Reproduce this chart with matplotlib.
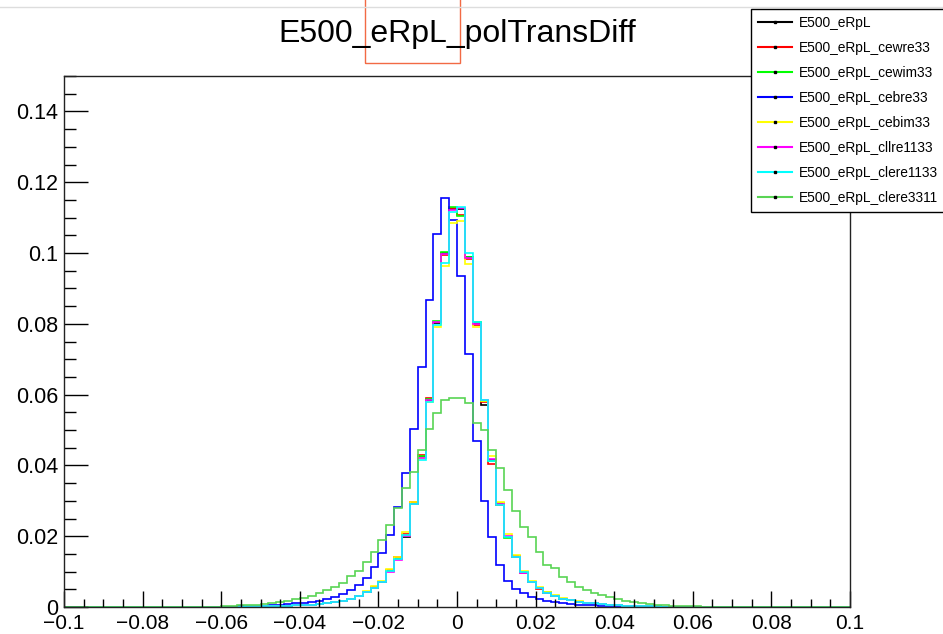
import numpy as np
import matplotlib
matplotlib.use('Agg')
import matplotlib.pyplot as plt
from matplotlib.ticker import MultipleLocator
from matplotlib.lines import Line2D
from matplotlib.patches import Rectangle

plt.rcParams['font.family'] = ['Liberation Sans', 'DejaVu Sans']

title = 'E500_eRpL_polTransDiff'
x_lo, x_hi, n_bins = -0.1, 0.1, 100
first_bin = 20   # values below start at bin 20 (x = -0.06), other bins are empty

names = ['E500_eRpL', 'E500_eRpL_cewre33', 'E500_eRpL_cewim33', 'E500_eRpL_cebre33',
         'E500_eRpL_cebim33', 'E500_eRpL_cllre1133', 'E500_eRpL_clere1133', 'E500_eRpL_clere3311']
colors = ['#000000', '#ff0000', '#00ff00', '#0000ff', '#ffff00', '#ff00ff', '#00ffff', '#59d454']

eRpL = [0.0001, 0.0001, 0.0001, 0.0002, 0.0002, 0.0002, 0.0003, 0.0003, 0.0004, 0.0005,
        0.0006, 0.0007, 0.0009, 0.0011, 0.0013, 0.0017, 0.0023, 0.0031, 0.0042, 0.0055,
        0.0072, 0.0103, 0.0138, 0.0197, 0.0293, 0.0424, 0.0584, 0.0802, 0.0999, 0.1123,
        0.1125, 0.0989, 0.0801, 0.0570, 0.0415, 0.0290, 0.0199, 0.0142, 0.0098, 0.0071,
        0.0053, 0.0040, 0.0031, 0.0024, 0.0019, 0.0015, 0.0012, 0.0010, 0.0008, 0.0006,
        0.0005, 0.0004, 0.0003, 0.0003, 0.0002, 0.0002, 0.0001, 0.0001, 0.0001, 0.0001,
        0.0000]
cewre33 = [0.0001, 0.0001, 0.0001, 0.0002, 0.0002, 0.0002, 0.0003, 0.0003, 0.0004, 0.0005,
           0.0006, 0.0007, 0.0009, 0.0011, 0.0013, 0.0017, 0.0024, 0.0031, 0.0041, 0.0056,
           0.0070, 0.0105, 0.0140, 0.0205, 0.0297, 0.0430, 0.0590, 0.0806, 0.0995, 0.1127,
           0.1108, 0.0984, 0.0796, 0.0580, 0.0405, 0.0288, 0.0197, 0.0144, 0.0096, 0.0072,
           0.0052, 0.0040, 0.0031, 0.0024, 0.0019, 0.0015, 0.0012, 0.0010, 0.0008, 0.0006,
           0.0005, 0.0004, 0.0003, 0.0003, 0.0002, 0.0002, 0.0001, 0.0001, 0.0001, 0.0001,
           0.0000]
cewim33 = [0.0001, 0.0001, 0.0001, 0.0002, 0.0002, 0.0002, 0.0003, 0.0003, 0.0004, 0.0005,
           0.0006, 0.0007, 0.0009, 0.0011, 0.0013, 0.0017, 0.0023, 0.0030, 0.0042, 0.0055,
           0.0071, 0.0102, 0.0137, 0.0200, 0.0290, 0.0426, 0.0588, 0.0808, 0.1003, 0.1131,
           0.1104, 0.0990, 0.0804, 0.0582, 0.0412, 0.0294, 0.0196, 0.0141, 0.0099, 0.0070,
           0.0053, 0.0041, 0.0031, 0.0024, 0.0019, 0.0015, 0.0012, 0.0010, 0.0008, 0.0006,
           0.0005, 0.0004, 0.0003, 0.0003, 0.0002, 0.0002, 0.0001, 0.0001, 0.0001, 0.0001,
           0.0000]
cebre33 = [0.0001, 0.0001, 0.0002, 0.0002, 0.0003, 0.0004, 0.0005, 0.0006, 0.0008, 0.0010,
           0.0012, 0.0014, 0.0018, 0.0022, 0.0029, 0.0037, 0.0048, 0.0062, 0.0081, 0.0114,
           0.0152, 0.0203, 0.0283, 0.0379, 0.0504, 0.0678, 0.0868, 0.1055, 0.1155, 0.1094,
           0.0935, 0.0716, 0.0469, 0.0300, 0.0199, 0.0120, 0.0073, 0.0050, 0.0040, 0.0029,
           0.0022, 0.0017, 0.0014, 0.0011, 0.0009, 0.0007, 0.0006, 0.0005, 0.0004, 0.0003,
           0.0003, 0.0002, 0.0002, 0.0001, 0.0001, 0.0001, 0.0001, 0.0000, 0.0000, 0.0000,
           0.0000]
cebim33 = [0.0001, 0.0001, 0.0001, 0.0002, 0.0002, 0.0002, 0.0003, 0.0003, 0.0004, 0.0005,
           0.0006, 0.0007, 0.0009, 0.0011, 0.0014, 0.0018, 0.0024, 0.0032, 0.0045, 0.0058,
           0.0074, 0.0106, 0.0142, 0.0213, 0.0296, 0.0420, 0.0578, 0.0790, 0.0962, 0.1086,
           0.1090, 0.0970, 0.0792, 0.0583, 0.0427, 0.0298, 0.0205, 0.0146, 0.0101, 0.0074,
           0.0056, 0.0042, 0.0033, 0.0025, 0.0020, 0.0016, 0.0012, 0.0010, 0.0008, 0.0006,
           0.0005, 0.0004, 0.0003, 0.0003, 0.0002, 0.0002, 0.0001, 0.0001, 0.0001, 0.0001,
           0.0000]
cllre1133 = [0.0001, 0.0001, 0.0001, 0.0002, 0.0002, 0.0002, 0.0003, 0.0003, 0.0004, 0.0005,
             0.0006, 0.0007, 0.0009, 0.0011, 0.0013, 0.0017, 0.0023, 0.0031, 0.0041, 0.0054,
             0.0071, 0.0100, 0.0134, 0.0201, 0.0290, 0.0421, 0.0586, 0.0805, 0.0998, 0.1121,
             0.1126, 0.0986, 0.0799, 0.0586, 0.0418, 0.0292, 0.0201, 0.0140, 0.0097, 0.0071,
             0.0054, 0.0040, 0.0031, 0.0024, 0.0019, 0.0015, 0.0012, 0.0010, 0.0008, 0.0006,
             0.0005, 0.0004, 0.0003, 0.0003, 0.0002, 0.0002, 0.0001, 0.0001, 0.0001, 0.0001,
             0.0000]
clere1133 = [0.0001, 0.0001, 0.0001, 0.0002, 0.0002, 0.0002, 0.0003, 0.0003, 0.0004, 0.0005,
             0.0006, 0.0007, 0.0009, 0.0011, 0.0013, 0.0017, 0.0022, 0.0030, 0.0041, 0.0054,
             0.0071, 0.0102, 0.0137, 0.0203, 0.0291, 0.0415, 0.0580, 0.0797, 0.0971, 0.1116,
             0.1131, 0.0999, 0.0806, 0.0585, 0.0412, 0.0287, 0.0199, 0.0141, 0.0098, 0.0071,
             0.0053, 0.0040, 0.0031, 0.0024, 0.0019, 0.0015, 0.0012, 0.0010, 0.0008, 0.0006,
             0.0005, 0.0004, 0.0003, 0.0003, 0.0002, 0.0002, 0.0001, 0.0001, 0.0001, 0.0001,
             0.0000]
clere3311 = [0.0003, 0.0004, 0.0005, 0.0006, 0.0007, 0.0008, 0.0010, 0.0014, 0.0018, 0.0023,
             0.0026, 0.0031, 0.0039, 0.0048, 0.0057, 0.0069, 0.0087, 0.0102, 0.0128, 0.0156,
             0.0189, 0.0231, 0.0281, 0.0335, 0.0382, 0.0443, 0.0502, 0.0547, 0.0584, 0.0590,
             0.0589, 0.0575, 0.0520, 0.0500, 0.0443, 0.0393, 0.0330, 0.0270, 0.0227, 0.0198,
             0.0156, 0.0119, 0.0109, 0.0086, 0.0071, 0.0057, 0.0048, 0.0040, 0.0034, 0.0027,
             0.0023, 0.0018, 0.0013, 0.0010, 0.0008, 0.0007, 0.0005, 0.0004, 0.0003, 0.0002,
             0.0002]
series = [eRpL, cewre33, cewim33, cebre33, cebim33, cllre1133, clere1133, clere3311]

xticks = [-0.1, -0.08, -0.06, -0.04, -0.02, 0, 0.02, 0.04, 0.06, 0.08, 0.1]
xtick_labels = ['\u22120.1', '\u22120.08', '\u22120.06', '\u22120.04', '\u22120.02', '0',
                '0.02', '0.04', '0.06', '0.08', '0.1']
yticks = [0, 0.02, 0.04, 0.06, 0.08, 0.1, 0.12, 0.14]
ytick_labels = ['0', '0.02', '0.04', '0.06', '0.08', '0.1', '0.12', '0.14']

fig = plt.figure(figsize=(9.43, 6.34), dpi=100)
ax = fig.add_axes([64/943, 27/634, 786/943, 531/634])

edges = np.linspace(x_lo, x_hi, n_bins + 1)
for vals, c in zip(series, colors):
    h = np.zeros(n_bins)
    h[first_bin:first_bin + len(vals)] = vals
    ax.stairs(h, edges, color=c, lw=1.2, baseline=0)

ax.set_xlim(x_lo, x_hi)
ax.set_ylim(0, 0.15)
ax.set_xticks(xticks)
ax.set_xticklabels(xtick_labels)
ax.set_yticks(yticks)
ax.set_yticklabels(ytick_labels)
ax.xaxis.set_minor_locator(MultipleLocator(0.005))
ax.yaxis.set_minor_locator(MultipleLocator(0.005))
ax.tick_params(axis='x', which='major', direction='in', length=11.5, width=1, pad=5, labelsize=15)
ax.tick_params(axis='x', which='minor', direction='in', length=5.8, width=1)
ax.tick_params(axis='y', which='major', direction='in', length=17, width=1, pad=4, labelsize=15.5)
ax.tick_params(axis='y', which='minor', direction='in', length=8.5, width=1)
for s in ax.spines.values():
    s.set_linewidth(1.0)
    s.set_color('#222222')

# title in the top pad
fig.text(457/943, 1 - 42/634, title, ha='center', va='baseline', fontsize=23)

# legend box, runs off the right edge like the original canvas
handles = [Line2D([], [], color=c, lw=1.5, marker='s', markersize=1.5,
                  markerfacecolor='k', markeredgecolor='k') for c in colors]
leg = fig.legend(handles, names, loc='upper left',
                 bbox_to_anchor=(751/943, 0.5, 0.3, 1 - 9/634 - 0.5), mode='expand',
                 borderaxespad=0, borderpad=0.5, labelspacing=0.8, handlelength=2.45,
                 handletextpad=0.5, fontsize=9.9, fancybox=False, framealpha=1,
                 edgecolor='black')
leg.get_frame().set_linewidth(1.0)

# faint canvas border line and the orange selection box
fig.add_artist(Line2D([0, 1], [1 - 7/634, 1 - 7/634], transform=fig.transFigure,
                      color='#dddddd', lw=1))
fig.add_artist(Rectangle((365/943, 1 - 63/634), 95/943, 70/634, transform=fig.transFigure,
                         fill=False, edgecolor='#f26a44', lw=1))

plt.savefig('out.png', dpi=100)
